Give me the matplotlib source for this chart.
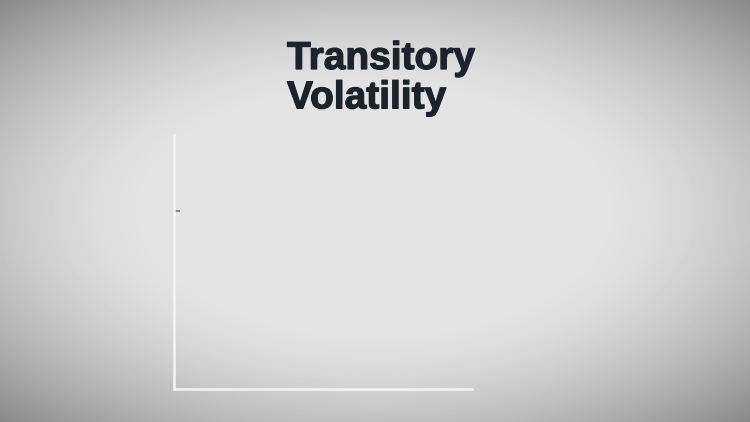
import numpy as np
import matplotlib.pyplot as plt
import matplotlib.patheffects as pe

# chart text and (empty) series - the frame shows only the axes before the line draws in
title_lines = ["Transitory", "Volatility"]
x_values = []
y_values = []
y_ticks = [0.7]

fig = plt.figure(figsize=(7.5, 4.22), dpi=100)

# paper-like background with a vignette
bg = fig.add_axes([0, 0, 1, 1])
yy, xx = np.mgrid[-1:1:422j, -1:1:750j]
r = np.sqrt((xx / 1.0) ** 2 + (yy / 0.95) ** 2)
shade = 0.89 - 0.45 * np.clip(r - 0.6, 0, None) ** 1.5
bg.imshow(shade, cmap="gray", vmin=0, vmax=1, aspect="auto", extent=[0, 1, 0, 1])
bg.set_axis_off()

ax = fig.add_axes([0.232, 0.078, 0.397, 0.602])
ax.patch.set_alpha(0)
ax.plot(x_values, y_values, color="#1f2630")
ax.set_xlim(0, 1)
ax.set_ylim(0, 1)
for side in ["top", "right"]:
    ax.spines[side].set_visible(False)
for side in ["left", "bottom"]:
    ax.spines[side].set_color("#f4f4f4")
    ax.spines[side].set_linewidth(1.8)
ax.set_xticks([])
ax.set_yticks(y_ticks)
ax.set_yticklabels([])
ax.tick_params(axis="y", direction="in", length=4, width=1.2, color="#777777")

title = fig.text(287 / 750, 1 - 41 / 422, "\n".join(title_lines), ha="left", va="top",
                 fontsize=28, fontweight="bold", family=["Liberation Sans", "DejaVu Sans"],
                 color="#1c232c", linespacing=1.12)
# thicken the strokes a little, the original face is heavier than Liberation bold
title.set_path_effects([pe.withStroke(linewidth=0.9, foreground="#1c232c")])

fig.savefig("out.png", dpi=100)
